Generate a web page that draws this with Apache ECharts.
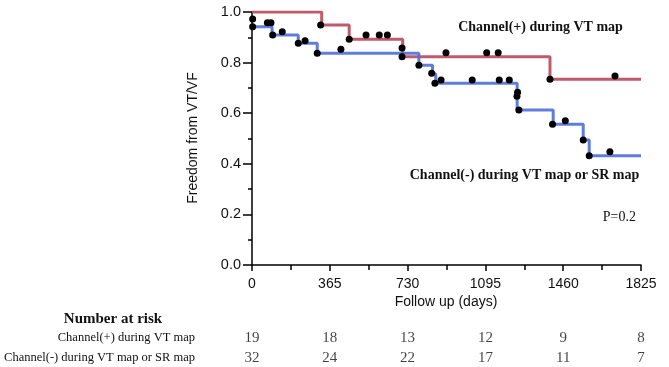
<!DOCTYPE html>
<html>
<head>
<meta charset="utf-8">
<script src="https://cdn.jsdelivr.net/npm/echarts@6/dist/echarts.min.js"></script>
<style>html,body{margin:0;padding:0;background:#fff;}#c{width:669px;height:367px;}</style>
</head>
<body>
<div id="c"></div>
<script>
// ---- data ----
var xTicks = [0, 365, 730, 1095, 1460, 1825];
var redTimes = [0, 327, 456, 707, 1398, 1825];
var redSurv  = [1.0, 0.949, 0.892, 0.823, 0.734, 0.734];
var blueTimes = [0, 94, 217, 306, 783, 847, 862, 1244, 1413, 1554, 1582, 1825];
var blueSurv  = [0.942, 0.909, 0.876, 0.837, 0.790, 0.756, 0.718, 0.613, 0.556, 0.494, 0.432, 0.432];
var redCensorT = [322, 456, 535, 597, 635, 704, 910, 1101, 1155, 1398, 1703];
var redCensorV = [0.949, 0.892, 0.909, 0.909, 0.909, 0.823, 0.839, 0.839, 0.839, 0.734, 0.747];
var blueCensorT = [3, 3, 72, 89, 97, 142, 217, 249, 306, 417, 704, 783, 843, 858, 887, 1033, 1160, 1207, 1246, 1243, 1252, 1410, 1470, 1554, 1582, 1679];
var blueCensorV = [0.972, 0.942, 0.958, 0.958, 0.909, 0.922, 0.876, 0.886, 0.837, 0.853, 0.858, 0.790, 0.758, 0.718, 0.731, 0.731, 0.731, 0.731, 0.683, 0.667, 0.613, 0.556, 0.570, 0.494, 0.432, 0.448];
var groupNames = ['Channel(+) during VT map', 'Channel(-) during VT map or SR map'];
var riskRed  = [19, 18, 13, 12, 9, 8];
var riskBlue = [32, 24, 22, 17, 11, 7];

function zip(a, b) { return a.map(function (v, i) { return [v, b[i]]; }); }
var riskData = [];
xTicks.forEach(function (t, i) {
  riskData.push([t, 0, riskRed[i]]);
  riskData.push([t, 1, riskBlue[i]]);
});

var SANS = '"Liberation Sans", Arial, sans-serif';
var SERIF = '"Liberation Serif", "Times New Roman", serif';
var chart = echarts.init(document.getElementById('c'), null, {renderer: 'canvas'});
var axisLineStyle = {color: '#000', width: 1.5};
chart.setOption({
  animation: false,
  backgroundColor: '#fff',
  grid: [
    {left: 252, top: 12, width: 389, height: 253, containLabel: false},
    {left: 252, top: 338, width: 389, height: 20, containLabel: false}
  ],
  xAxis: [{
    type: 'value', gridIndex: 0, min: 0, max: 1825, interval: 365,
    axisLine: {show: true, lineStyle: axisLineStyle},
    axisTick: {show: true, length: 6, lineStyle: {color: '#000', width: 1.5}},
    minorTick: {show: true, splitNumber: 2, length: 5, lineStyle: {color: '#000', width: 1.5}},
    splitLine: {show: false},
    axisLabel: {fontFamily: SANS, fontSize: 14, color: '#111', margin: 12,
      formatter: function (v) { return String(v); }}
  }, {
    type: 'value', gridIndex: 1, min: 0, max: 1825, show: false
  }],
  yAxis: [{
    type: 'value', gridIndex: 0, min: 0, max: 1, interval: 0.2,
    axisLine: {show: true, lineStyle: axisLineStyle},
    axisTick: {show: true, length: 9, lineStyle: {color: '#000', width: 1.5}},
    minorTick: {show: true, splitNumber: 2, length: 4, lineStyle: {color: '#000', width: 1.5}},
    splitLine: {show: false},
    axisLabel: {fontFamily: SANS, fontSize: 14.5, color: '#111', margin: 11,
      formatter: function (v) { return v.toFixed(1); }}
  }, {
    type: 'value', gridIndex: 1, min: 0, max: 1, inverse: true, show: false
  }],
  series: [
    {type: 'line', name: groupNames[0], xAxisIndex: 0, yAxisIndex: 0, step: 'end', symbol: 'none',
      data: zip(redTimes, redSurv), lineStyle: {color: '#b8475c', width: 3, opacity: 0.9}, z: 2},
    {type: 'line', name: groupNames[1], xAxisIndex: 0, yAxisIndex: 0, step: 'end', symbol: 'none',
      data: zip(blueTimes, blueSurv), lineStyle: {color: '#4f6fd8', width: 3, opacity: 0.9}, z: 2},
    {type: 'scatter', xAxisIndex: 0, yAxisIndex: 0, symbolSize: 7, itemStyle: {color: '#000', opacity: 1},
      data: zip(redCensorT, redCensorV), z: 3},
    {type: 'scatter', xAxisIndex: 0, yAxisIndex: 0, symbolSize: 7, itemStyle: {color: '#000', opacity: 1},
      data: zip(blueCensorT, blueCensorV), z: 3},
    {type: 'scatter', xAxisIndex: 1, yAxisIndex: 1, symbolSize: 0, data: riskData,
      label: {show: true, position: 'inside', fontFamily: SERIF, fontSize: 15, color: '#111',
        formatter: function (p) { return String(p.value[2]); }}}
  ],
  graphic: [
    {type: 'text', x: 193, y: 138, rotation: Math.PI / 2,
      style: {text: 'Freedom from VT/VF', font: '14px ' + SANS, fill: '#111', align: 'center', verticalAlign: 'middle', textAlign: 'center', textVerticalAlign: 'middle'}},
    {type: 'text', x: 446, y: 302,
      style: {text: 'Follow up (days)', font: '14px ' + SANS, fill: '#111', align: 'center', verticalAlign: 'middle', textAlign: 'center', textVerticalAlign: 'middle'}},
    {type: 'text', x: 540.5, y: 27,
      style: {text: groupNames[0], font: 'bold 14px ' + SERIF, fill: '#111', align: 'center', verticalAlign: 'middle', textAlign: 'center', textVerticalAlign: 'middle'}},
    {type: 'text', x: 524.5, y: 175,
      style: {text: groupNames[1], font: 'bold 14px ' + SERIF, fill: '#111', align: 'center', verticalAlign: 'middle', textAlign: 'center', textVerticalAlign: 'middle'}},
    {type: 'text', x: 636, y: 217,
      style: {text: 'P=0.2', font: '14px ' + SERIF, fill: '#111', align: 'right', verticalAlign: 'middle', textAlign: 'right', textVerticalAlign: 'middle'}},
    {type: 'text', x: 113, y: 319,
      style: {text: 'Number at risk', font: 'bold 15px ' + SERIF, fill: '#111', align: 'center', verticalAlign: 'middle', textAlign: 'center', textVerticalAlign: 'middle'}},
    {type: 'text', x: 195, y: 338,
      style: {text: groupNames[0], font: '12.5px ' + SERIF, fill: '#111', align: 'right', verticalAlign: 'middle', textAlign: 'right', textVerticalAlign: 'middle'}},
    {type: 'text', x: 195, y: 357.5,
      style: {text: groupNames[1], font: '12.5px ' + SERIF, fill: '#111', align: 'right', verticalAlign: 'middle', textAlign: 'right', textVerticalAlign: 'middle'}}
  ]
});
</script>
</body>
</html>
